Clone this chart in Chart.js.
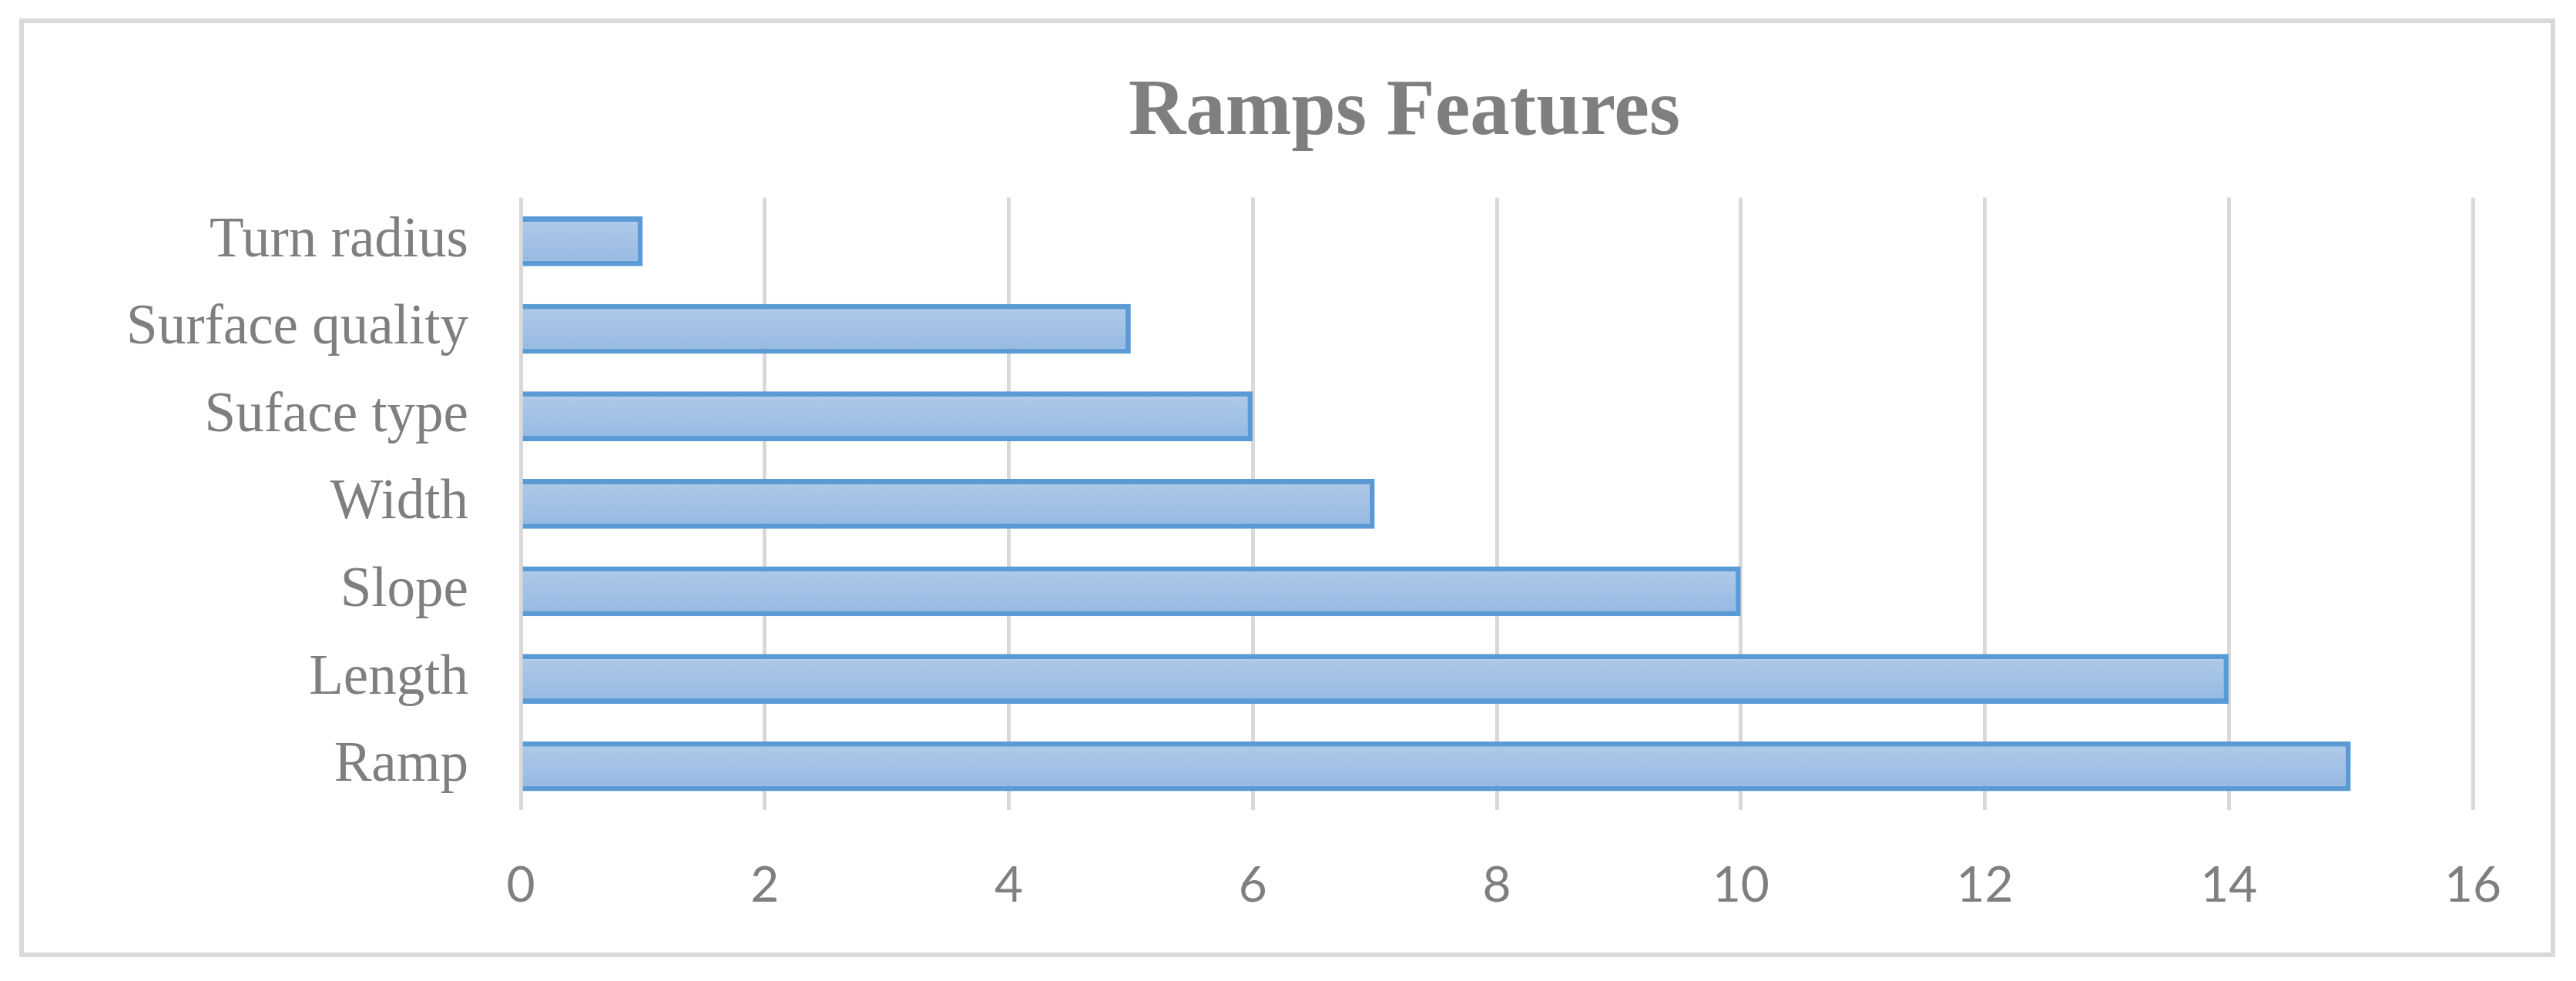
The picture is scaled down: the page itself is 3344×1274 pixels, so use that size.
<!DOCTYPE html>
<html>
<head>
<meta charset="utf-8">
<script src="https://cdn.jsdelivr.net/npm/chart.js@4.4.1/dist/chart.umd.min.js"></script>
<style>
  html, body { margin: 0; padding: 0; background: #fff; }
  #wrap { width: 3344px; height: 1274px; }
</style>
</head>
<body>
<div id="wrap"><canvas id="myChart" width="3344" height="1274"></canvas></div>
<script>
const categories = ['Turn radius', 'Surface quality', 'Suface type', 'Width', 'Slope', 'Length', 'Ramp'];
const values = [1, 5, 6, 7, 10, 14, 15];
const xTicks = [0, 2, 4, 6, 8, 10, 12, 14, 16];

// outer frame like the office chart border
const frame = {
  id: 'frame',
  beforeDraw(chart) {
    const c = chart.ctx;
    c.save();
    c.fillStyle = '#ffffff';
    c.fillRect(0, 0, chart.width, chart.height);
    c.strokeStyle = '#d9d9d9';
    c.lineWidth = 6;
    c.strokeRect(28, 27, 3286, 1213);
    c.restore();
  }
};

// title in the original sits a bit right of the canvas middle
const titleShift = {
  id: 'titleShift',
  afterLayout(chart) {
    const t = chart.titleBlock;
    if (t) { t.left = 302; t.right = 3344; }
  }
};

function barFill(context) {
  const chart = context.chart;
  const y = chart.scales.y;
  if (!y || context.dataIndex === undefined) return '#a3c2e6';
  const mid = y.getPixelForValue(context.dataIndex);
  if (!Number.isFinite(mid)) return '#a3c2e6';
  const half = 33;
  const g = chart.ctx.createLinearGradient(0, mid - half, 0, mid + half);
  g.addColorStop(0, '#b1cbe9');
  g.addColorStop(1, '#94b8e2');
  return g;
}

const ctx = document.getElementById('myChart').getContext('2d');
const myChart = new Chart(ctx, {
  type: 'bar',
  data: {
    labels: categories,
    datasets: [{
      data: values,
      backgroundColor: barFill,
      borderColor: '#5b9bd5',
      borderWidth: 7,
      borderSkipped: 'start',
      barPercentage: 0.57,
      categoryPercentage: 1
    }]
  },
  plugins: [frame, titleShift],
  options: {
    indexAxis: 'y',
    responsive: false,
    animation: false,
    devicePixelRatio: 1,
    layout: { padding: { left: 0, right: 134, top: 0, bottom: 0 } },
    scales: {
      x: {
        min: 0,
        max: 16,
        afterBuildTicks: (s) => { s.ticks = xTicks.map(v => ({ value: v })); },
        afterFit: (s) => { s.height = 222; },
        grid: { color: '#d9d9d9', lineWidth: 5, drawTicks: false },
        border: { display: false },
        ticks: {
          color: '#7f7f7f',
          padding: 60,
          font: { size: 64, family: 'Lato' }
        }
      },
      y: {
        afterFit: (s) => { s.width = 676; },
        grid: { display: false },
        border: { display: false },
        ticks: {
          color: '#7f7f7f',
          padding: 60,
          font: { size: 73, family: 'Liberation Serif' }
        }
      }
    },
    plugins: {
      legend: { display: false },
      tooltip: { enabled: false },
      title: {
        display: true,
        text: 'Ramps Features',
        color: '#7f7f7f',
        padding: { top: 86, bottom: 47 },
        font: { size: 103, weight: 'bold', family: 'Liberation Serif', lineHeight: 1.2 }
      }
    }
  }
});
</script>
</body>
</html>
